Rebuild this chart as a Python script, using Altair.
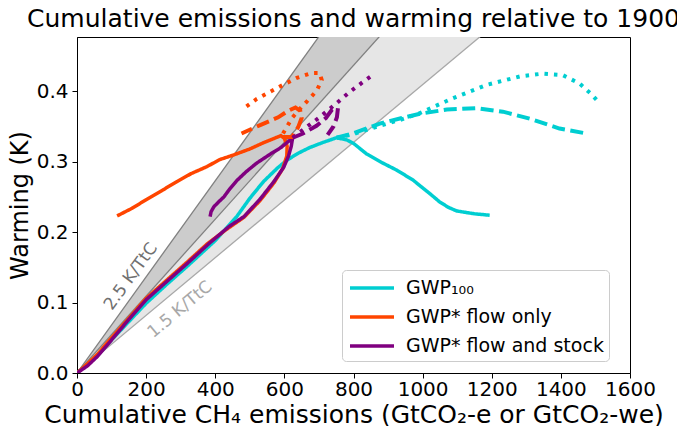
import altair as alt
import pandas as pd

# ---------------- data ----------------
X_TICKS = [0, 200, 400, 600, 800, 1000, 1200, 1400, 1600]
Y_TICKS = [0.0, 0.1, 0.2, 0.3, 0.4]

SERIES = ["GWP₁₀₀", "GWP* flow only", "GWP* flow and stock"]
COLORS = ["#00CED1", "#FF4500", "#800080"]

# TCRE wedge slopes (K per TtC) and conversion GtCO2 per TtC
WEDGE_SLOPES = [1.5, 2.0, 2.5]
GTCO2_PER_TTC = 3664
WEDGE_X = [0, 1600]

# GWP100
gwp100_solid_x = [0, 30, 60, 100, 150, 200, 260, 320, 400, 462, 500, 540, 580, 607, 640, 673, 710, 751,
                  780, 800, 838, 885, 925, 972, 992, 1020, 1049, 1075, 1099, 1150, 1194]
gwp100_solid_y = [0, 0.012, 0.025, 0.047, 0.073, 0.099, 0.126, 0.152, 0.188, 0.222, 0.248, 0.272, 0.291, 0.302, 0.312, 0.320, 0.327, 0.334,
                  0.331, 0.326, 0.311, 0.298, 0.288, 0.274, 0.266, 0.255, 0.243, 0.235, 0.230, 0.226, 0.224]
gwp100_dash_x = [751, 798, 876, 940, 992, 1070, 1156, 1232, 1310, 1396, 1474]
gwp100_dash_y = [0.334, 0.340, 0.354, 0.362, 0.368, 0.374, 0.376, 0.371, 0.361, 0.347, 0.340]
gwp100_dot_x = [751, 798, 876, 940, 992, 1087, 1185, 1281, 1347, 1405, 1454, 1490, 1512]
gwp100_dot_y = [0.334, 0.339, 0.351, 0.360, 0.369, 0.390, 0.409, 0.421, 0.425, 0.423, 0.411, 0.395, 0.383]

# GWP* flow only
flow_solid_x = [0, 30, 60, 100, 150, 200, 260, 320, 376, 430, 483, 530, 570, 595, 607, 608, 600, 590,
                575, 540, 500, 450, 413, 376, 330, 290, 249, 200, 160, 116]
flow_solid_y = [0, 0.013, 0.027, 0.050, 0.078, 0.106, 0.132, 0.158, 0.183, 0.203, 0.221, 0.245, 0.270, 0.290, 0.308, 0.322, 0.333, 0.337,
                0.334, 0.327, 0.318, 0.309, 0.303, 0.293, 0.283, 0.272, 0.260, 0.246, 0.234, 0.223]
flow_dash_x = [595, 622, 640, 650, 646, 632, 610, 582, 530, 476]
flow_dash_y = [0.335, 0.335, 0.349, 0.362, 0.372, 0.377, 0.372, 0.363, 0.352, 0.340]
flow_dot_x = [596, 607, 622, 645, 668, 694, 708, 702, 680, 636, 600, 558, 520, 486]
flow_dot_y = [0.340, 0.349, 0.362, 0.375, 0.387, 0.401, 0.416, 0.426, 0.426, 0.419, 0.410, 0.399, 0.389, 0.377]

# GWP* flow and stock
stock_solid_x = [0, 30, 60, 100, 150, 200, 260, 320, 380, 440, 483, 530, 570, 598, 612, 620, 624,
                 610, 590, 560, 520, 490, 462, 440, 425, 410, 396, 388, 385]
stock_solid_y = [0, 0.010, 0.024, 0.047, 0.076, 0.104, 0.130, 0.156, 0.183, 0.208, 0.222, 0.247, 0.272, 0.292, 0.308, 0.322, 0.334,
                 0.328, 0.320, 0.311, 0.298, 0.286, 0.273, 0.260, 0.250, 0.243, 0.236, 0.229, 0.222]
stock_dash_x = [624, 654, 693, 720, 738, 755, 752, 742, 725]
stock_dash_y = [0.334, 0.340, 0.351, 0.362, 0.374, 0.376, 0.363, 0.350, 0.338]
stock_dot_x = [624, 664, 702, 751, 789, 827, 856]
stock_dot_y = [0.334, 0.349, 0.363, 0.383, 0.399, 0.413, 0.423]

# wedge labels
LABEL_TEXT = ["2.5 K/TtC", "1.5 K/TtC"]
LABEL_X = [156, 298]
LABEL_Y = [0.137, 0.090]

# ---------------- tables ----------------
rows = []
def add(series, style, xs, ys):
    for i, (a, b) in enumerate(zip(xs, ys)):
        rows.append({"series": series, "style": style, "order": i, "x": a, "y": b})

add(SERIES[0], "solid", gwp100_solid_x, gwp100_solid_y)
add(SERIES[0], "dash", gwp100_dash_x, gwp100_dash_y)
add(SERIES[0], "dot", gwp100_dot_x, gwp100_dot_y)
add(SERIES[1], "solid", flow_solid_x, flow_solid_y)
add(SERIES[1], "dash", flow_dash_x, flow_dash_y)
add(SERIES[1], "dot", flow_dot_x, flow_dot_y)
add(SERIES[2], "solid", stock_solid_x, stock_solid_y)
add(SERIES[2], "dash", stock_dash_x, stock_dash_y)
add(SERIES[2], "dot", stock_dot_x, stock_dot_y)
lines_df = pd.DataFrame(rows)

wedge_df = pd.DataFrame({"x": WEDGE_X})
for s in WEDGE_SLOPES:
    wedge_df["k%d" % int(s * 10)] = [v * s / GTCO2_PER_TTC for v in WEDGE_X]

labels_df = pd.DataFrame({"text": LABEL_TEXT, "x": LABEL_X, "y": LABEL_Y})

# ---------------- encodings ----------------
FONT = "DejaVu Sans"
XSCALE = alt.Scale(domain=[0, 1600], nice=False, zero=False)
YSCALE = alt.Scale(domain=[0, 0.477], nice=False, zero=False)
XAXIS = alt.Axis(values=X_TICKS, format="d", labelOverlap=False, labelFlush=False,
                 title="Cumulative CH₄ emissions (GtCO₂-e or GtCO₂-we)")
YAXIS = alt.Axis(values=Y_TICKS, format=".1f", labelOverlap=False, labelFlush=False,
                 title="Warming (K)")

def X(field="x"):
    return alt.X(field + ":Q", scale=XSCALE, axis=XAXIS)

def Y(field="y"):
    return alt.Y(field + ":Q", scale=YSCALE, axis=YAXIS)

color_enc = alt.Color(
    "series:N",
    scale=alt.Scale(domain=SERIES, range=COLORS),
    sort=SERIES,
    legend=alt.Legend(
        title=None, orient="none", legendX=265, legendY=233,
        symbolType="M-2,0H2", symbolSize=484, symbolStrokeWidth=3.5, symbolDash=[1, 0],
        symbolFillColor="transparent", symbolOffset=12,
        labelFont=FONT, labelFontSize=19, labelColor="black", labelOffset=21, labelLimit=400,
        padding=5, rowPadding=6, strokeColor="#cccccc", fillColor="white", cornerRadius=4,
    ),
)

light = alt.Chart(wedge_df).mark_area(color="#e6e6e6", clip=True, opacity=1).encode(
    x=X(), y=Y("k15"), y2="k20:Q")
dark = alt.Chart(wedge_df).mark_area(color="#cccccc", clip=True, opacity=1).encode(
    x=X(), y=Y("k20"), y2="k25:Q")
edge15 = alt.Chart(wedge_df).mark_line(color="#a8a8a8", strokeWidth=1.3, clip=True).encode(x=X(), y=Y("k15"))
edge20 = alt.Chart(wedge_df).mark_line(color="#808080", strokeWidth=1.3, clip=True).encode(x=X(), y=Y("k20"))
edge25 = alt.Chart(wedge_df).mark_line(color="#808080", strokeWidth=1.3, clip=True).encode(x=X(), y=Y("k25"))

lab25 = alt.Chart(labels_df).transform_filter(alt.datum.text == LABEL_TEXT[0]).mark_text(
    angle=306, font=FONT, fontSize=17, color="#707070", align="center", baseline="middle"
).encode(x=X(), y=Y(), text="text:N")
lab15 = alt.Chart(labels_df).transform_filter(alt.datum.text == LABEL_TEXT[1]).mark_text(
    angle=320, font=FONT, fontSize=17, color="#a8a8a8", align="center", baseline="middle"
).encode(x=X(), y=Y(), text="text:N")

def line_layer(style, dash, width):
    return alt.Chart(lines_df).transform_filter(alt.datum.style == style).mark_line(
        strokeWidth=width, strokeDash=dash, strokeCap="butt", clip=True
    ).encode(x=X(), y=Y(), color=color_enc, order="order:Q", detail="series:N")

solid = line_layer("solid", [1, 0], 3.5)
dashed = line_layer("dash", [13, 5.5], 4)
dotted = line_layer("dot", [3.5, 6], 4)

chart = alt.layer(
    light, dark, edge15, edge20, edge25, lab25, lab15, solid, dashed, dotted
).properties(
    width=553, height=336,
    autosize=alt.AutoSizeParams(type="none"),
    padding={"left": 69, "top": 29, "right": 47, "bottom": 53},
    title=alt.TitleParams(
        "Cumulative emissions and warming relative to 1900",
        font=FONT, fontSize=25, fontWeight="normal", color="black", anchor="middle", offset=5,
    ),
).configure_axis(
    labelFont=FONT, labelFontSize=20, labelColor="black",
    titleFont=FONT, titleFontWeight="normal", titleColor="black",
    grid=False, tickColor="black", domainColor="black", tickSize=5,
).configure_axisX(titlePadding=3, labelPadding=1, titleFontSize=25).configure_axisY(
    titlePadding=4, labelPadding=4, titleFontSize=24
).configure_view(
    stroke="black", strokeWidth=1
)

chart.save("out.html", embed_options={"renderer": "svg", "actions": False})
